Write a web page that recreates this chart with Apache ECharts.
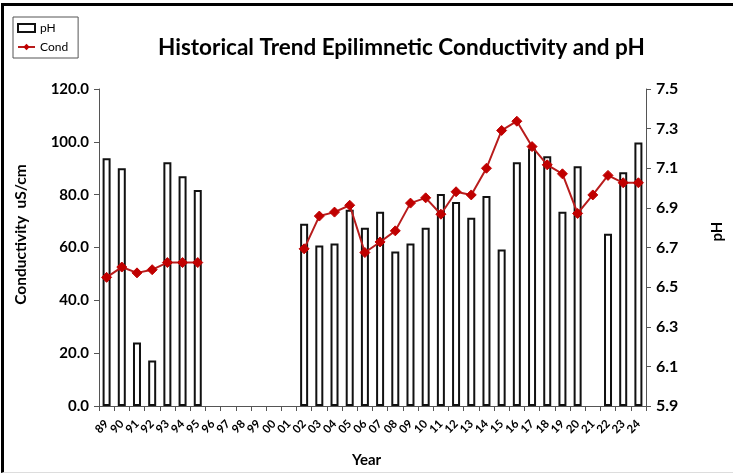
<!DOCTYPE html>
<html><head><meta charset="utf-8">
<script src="https://cdn.jsdelivr.net/npm/echarts@6/dist/echarts.min.js"></script>
<style>
html,body{margin:0;padding:0;background:#fff;overflow:hidden}
#frame{position:absolute;left:1px;top:3px;width:740px;height:466px;border-left:3px solid #000;border-top:3px solid #000;border-bottom:1px solid #ddd}
#c{position:absolute;left:0;top:0;width:733px;height:473px}
</style></head>
<body>
<div id="frame"></div>
<div id="c"></div>
<script>
const years = ['89','90','91','92','93','94','95','96','97','98','99','00','01','02','03','04','05','06','07','08','09','10','11','12','13','14','15','16','17','18','19','20','21','22','23','24'];
const phValues = [7.15,7.10,6.22,6.13,7.13,7.06,6.99,null,null,null,null,null,null,6.82,6.71,6.72,6.89,6.80,6.88,6.68,6.72,6.80,6.97,6.93,6.85,6.96,6.69,7.13,7.20,7.16,6.88,7.11,null,6.77,7.08,7.23];
const condValues = [48.7,52.6,50.4,51.6,54.3,54.3,54.3,null,null,null,null,null,null,59.5,71.9,73.4,76.0,58.1,62.1,66.3,76.8,78.8,72.6,81.1,79.9,90.0,104.3,107.8,98.2,91.3,87.9,72.9,79.9,87.3,84.5,84.5];
const condTicks = [0,20,40,60,80,100,120];
const phTicks = [5.9,6.1,6.3,6.5,6.7,6.9,7.1,7.3,7.5];

const FONT = 'Lato';
const chart = echarts.init(document.getElementById('c'));
chart.setOption({
  animation:false,
  textStyle:{fontFamily:FONT},
  title:{text:'Historical Trend Epilimnetic Conductivity and pH',left:153,top:31,
    textStyle:{fontFamily:FONT,fontSize:22.5,fontWeight:'bold',color:'#000'}},
  legend:{orient:'vertical',left:13,top:17,itemGap:7,itemWidth:17,itemHeight:8,
    padding:[5,10,5,4],borderColor:'#555',borderWidth:1,
    textStyle:{fontFamily:FONT,fontSize:12,color:'#000'},
    data:[{name:'pH',icon:'rect'},{name:'Cond'}]},
  grid:{left:99,right:69,top:89,bottom:65,containLabel:false},
  xAxis:{type:'category',data:years,boundaryGap:true,
    name:'Year',nameLocation:'middle',nameGap:47,
    nameTextStyle:{fontFamily:FONT,fontSize:15,fontWeight:'bold',color:'#000',padding:[0,12,0,0]},
    axisLine:{lineStyle:{color:'#555',width:1}},
    axisTick:{show:true,alignWithLabel:false,length:5,lineStyle:{color:'#555'}},
    axisLabel:{rotate:45,interval:0,fontFamily:FONT,fontSize:11.5,fontWeight:'bold',color:'#000',margin:16}},
  yAxis:[
    {type:'value',min:0,max:120,interval:20,position:'left',
     name:'Conductivity  uS/cm',nameLocation:'middle',nameGap:70,nameRotate:90,
     nameTextStyle:{fontFamily:FONT,fontSize:15.5,fontWeight:'bold',color:'#000',padding:[0,0,0,26]},
     axisLine:{show:true,lineStyle:{color:'#555'}},
     axisTick:{show:true,length:5,lineStyle:{color:'#555'}},
     splitLine:{show:false},
     axisLabel:{formatter:v=>v.toFixed(1),fontFamily:FONT,fontSize:15,fontWeight:'bold',color:'#000',margin:10,
       customValues:condTicks}},
    {type:'value',min:5.9,max:7.5,position:'right',startValue:5.9,
     name:'pH',nameLocation:'middle',nameGap:64,nameRotate:90,
     nameTextStyle:{fontFamily:FONT,fontSize:15,fontWeight:'bold',color:'#000',padding:[0,0,0,32]},
     axisLine:{show:true,lineStyle:{color:'#555'}},
     axisTick:{show:true,length:5,lineStyle:{color:'#555'},customValues:phTicks},
     splitLine:{show:false},
     axisLabel:{formatter:v=>(+v).toFixed(1),fontFamily:FONT,fontSize:16,fontWeight:'bold',color:'#000',margin:10,
       customValues:phTicks}}
  ],
  series:[
    {name:'pH',type:'bar',yAxisIndex:1,data:phValues,barWidth:8,clip:true,
     itemStyle:{color:'#fff',borderColor:'#111',borderWidth:2}},
    {name:'Cond',type:'line',yAxisIndex:0,data:condValues,connectNulls:false,
     symbol:'diamond',symbolSize:10,
     lineStyle:{color:'#b81c1c',width:2},
     itemStyle:{color:'#c00000',borderColor:'#c00000'}}
  ]
});
</script>
</body></html>
